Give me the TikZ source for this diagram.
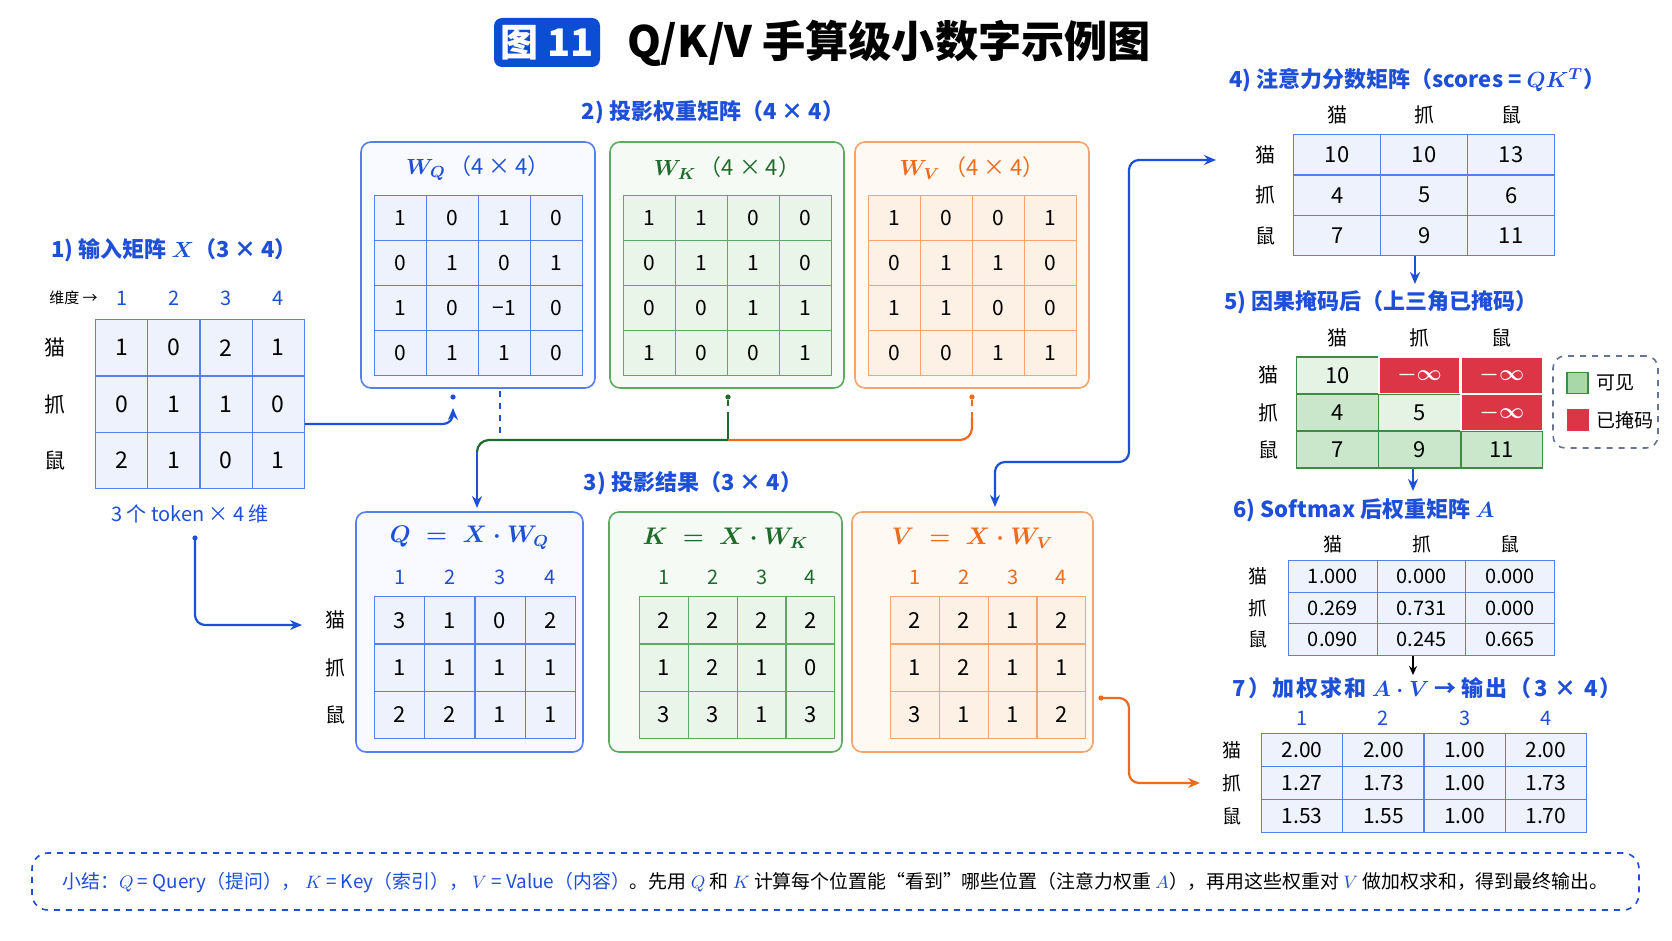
\documentclass[tikz,border=0pt]{standalone}
\usepackage{fontspec}
\setmainfont{Noto Sans CJK SC}
\usetikzlibrary{matrix,arrows.meta,calc}
\definecolor{bluetxt}{HTML}{1E4FD8}
\definecolor{titleblue}{HTML}{0B4ED3}
\definecolor{bline}{HTML}{5580EC}
\definecolor{bfill}{HTML}{F8FAFF}
\definecolor{bcell}{HTML}{EEF2FD}
\definecolor{greentxt}{HTML}{1F6B2B}
\definecolor{gline}{HTML}{5EAA62}
\definecolor{gfill}{HTML}{F5FAF5}
\definecolor{gcell}{HTML}{EAF5EA}
\definecolor{orangetxt}{HTML}{F06A1C}
\definecolor{oline}{HTML}{F6A46C}
\definecolor{ofill}{HTML}{FFF9F4}
\definecolor{ocell}{HTML}{FDF1E6}
\definecolor{maskred}{HTML}{DC3546}
\definecolor{mgreenA}{HTML}{E4F3E4}
\definecolor{mgreenB}{HTML}{CBE7CB}
\definecolor{mgborder}{HTML}{3C8C41}
\definecolor{leggray}{HTML}{66748F}
\definecolor{leggreen}{HTML}{A8D8A8}
\tikzset{
  gridm/.style n args={5}{matrix of nodes, nodes in empty cells, anchor=north west,
     inner sep=0pt, outer sep=0pt, column sep=-0.6pt, row sep=-0.6pt,
     nodes={draw=#1, fill=#2, line width=0.6pt, minimum width=#3, minimum height=#4,
       inner sep=0pt, outer sep=0pt, anchor=center, font=\fontsize{#5}{#5}\selectfont}},
  panel/.style n args={2}{draw=#1, fill=#2, line width=0.8pt, rounded corners=5pt, inner sep=0pt},
  head/.style={text=bluetxt, inner sep=0pt, font=\bfseries\boldmath\fontsize{11}{12}\selectfont},
  ptitle/.style={inner sep=0pt, font=\boldmath\fontsize{11}{12}\selectfont},
  lab/.style={inner sep=0pt, font=\fontsize{10}{10}\selectfont},
  colnum/.style={inner sep=0pt, font=\fontsize{10}{10}\selectfont},
  mred/.style={fill=maskred, draw=white, text=white, line width=1pt},
  mlite/.style={fill=mgreenA},
  tip/.style={-{Stealth[length=6pt,width=5pt]}},
  connB/.style={draw=bluetxt, line width=1.1pt, rounded corners=5pt, tip},
  connO/.style={draw=orangetxt, line width=1.1pt, rounded corners=5pt, tip},
}
\newcommand{\minf}{{\fontsize{11}{11}\selectfont\boldmath$-\infty$}}
\begin{document}
\begin{tikzpicture}[x=0.5pt,y=-0.5pt]
\useasboundingbox (0,0) rectangle (1672,941);
\fill[white] (0,0) rectangle (1672,941);

% ---- title
\node[fill=titleblue, rounded corners=4pt, minimum width=53pt, minimum height=24.5pt, inner sep=0pt,
      text=white, font=\bfseries\fontsize{19}{19}\selectfont] (tbox) at (547,42.5) {图 11};
\node[anchor=west, inner sep=0pt, font=\bfseries\fontsize{21.6}{23}\selectfont] (title) at (627,43) {Q/K/V 手算级小数字示例图};

% ---- 1) input X
\node[head, anchor=west] (h1) at (51,250) {1) 输入矩阵 $X$（3 × 4）};
\matrix (X) [gridm={bline}{bcell}{26.1pt}{28.2pt}{11.5}] at (95,319) {
1 & 0 & 2 & 1 \\
0 & 1 & 1 & 0 \\
2 & 1 & 0 & 1 \\
};
\node[inner sep=0pt, anchor=west, font=\fontsize{7.5}{8}\selectfont] (wd) at (49,298) {维度 →};
\foreach \i in {1,...,4} \node[colnum, text=bluetxt] (xc\i) at (X-1-\i |- 0,298) {\i};
\foreach \r/\t in {1/猫,2/抓,3/鼠} \node[lab, font=\fontsize{10.5}{11}\selectfont] (xr\r) at (55,0 |- X-\r-1) {\t};
\node[inner sep=0pt, text=bluetxt, font=\fontsize{10}{10}\selectfont] (xcap) at (190,514) {3 个 token × 4 维};

% ---- 2) weight matrices
\node[head] (h2) at (713,112) {2) 投影权重矩阵（4 × 4）};
\node[panel={bline}{bfill}, minimum width=117pt, minimum height=123pt] (wqbox) at (478,265) {};
\node[panel={gline}{gfill}, minimum width=117pt, minimum height=123pt] (wkbox) at (727,265) {};
\node[panel={oline}{ofill}, minimum width=117pt, minimum height=123pt] (wvbox) at (972,265) {};
\node[ptitle, text=bluetxt] (wqt) at (478,168) {$W_Q$\,（4 × 4）};
\node[ptitle, text=greentxt] (wkt) at (727,168) {$W_K$\,（4 × 4）};
\node[ptitle, text=orangetxt] (wvt) at (972,168) {$W_V$\,（4 × 4）};
\matrix (WQ) [gridm={bline}{bcell}{26pt}{22.5pt}{10.5}] at (374,195) {
1 & 0 & 1 & 0 \\
0 & 1 & 0 & 1 \\
1 & 0 & −1 & 0 \\
0 & 1 & 1 & 0 \\
};
\matrix (WK) [gridm={gline}{gcell}{26pt}{22.5pt}{10.5}] at (623,195) {
1 & 1 & 0 & 0 \\
0 & 1 & 1 & 0 \\
0 & 0 & 1 & 1 \\
1 & 0 & 0 & 1 \\
};
\matrix (WV) [gridm={oline}{ocell}{26pt}{22.5pt}{10.5}] at (868,195) {
1 & 0 & 0 & 1 \\
0 & 1 & 1 & 0 \\
1 & 1 & 0 & 0 \\
0 & 0 & 1 & 1 \\
};

% ---- 3) projections
\node[head] (h3) at (693,483) {3) 投影结果（3 × 4）};
\node[panel={bline}{bfill}, minimum width=113.5pt, minimum height=120pt] (qbox) at (469.5,632) {};
\node[panel={gline}{gfill}, minimum width=116.5pt, minimum height=120pt] (kbox) at (725.5,632) {};
\node[panel={oline}{ofill}, minimum width=120.5pt, minimum height=120pt] (vbox) at (972.5,632) {};
\node[ptitle, text=bluetxt, font=\boldmath\fontsize{12}{12}\selectfont] (qt) at (469.5,538) {$Q\;=\;X\cdot W_Q$};
\node[ptitle, text=greentxt, font=\boldmath\fontsize{12}{12}\selectfont] (kt) at (725.5,538) {$K\;=\;X\cdot W_K$};
\node[ptitle, text=orangetxt, font=\boldmath\fontsize{12}{12}\selectfont] (vt) at (972.5,538) {$V\;=\;X\cdot W_V$};
\matrix (Q) [gridm={bline}{bcell}{25.1pt}{23.65pt}{11}] at (374,596) {
3 & 1 & 0 & 2 \\
1 & 1 & 1 & 1 \\
2 & 2 & 1 & 1 \\
};
\matrix (K) [gridm={gline}{gcell}{24.4pt}{23.65pt}{11}] at (639,596) {
2 & 2 & 2 & 2 \\
1 & 2 & 1 & 0 \\
3 & 3 & 1 & 3 \\
};
\matrix (V) [gridm={oline}{ocell}{24.4pt}{23.65pt}{11}] at (890,596) {
2 & 2 & 1 & 2 \\
1 & 2 & 1 & 1 \\
3 & 1 & 1 & 2 \\
};
\foreach \i in {1,...,4} {
  \node[colnum, text=bluetxt] (qc\i) at (Q-1-\i |- 0,577) {\i};
  \node[colnum, text=greentxt] (kc\i) at (K-1-\i |- 0,577) {\i};
  \node[colnum, text=orangetxt] (vc\i) at (V-1-\i |- 0,577) {\i};
}
\foreach \r/\t in {1/猫,2/抓,3/鼠} \node[lab] (qr\r) at (335,0 |- Q-\r-1) {\t};

% ---- 4) scores
\node[head, anchor=west] (h4) at (1229,80) {4) 注意力分数矩阵（scores = $QK^T$）};
\matrix (S) [gridm={bline}{bcell}{43.5pt}{20.2pt}{11}] at (1293,134) {
10 & 10 & 13 \\
4 & 5 & 6 \\
7 & 9 & 11 \\
};
\foreach \c/\t in {1/猫,2/抓,3/鼠} {
  \node[lab] (sh\c) at (S-1-\c |- 0,115) {\t};
  \node[lab] (sr\c) at (1265,0 |- S-\c-1) {\t};
}

% ---- 5) masked
\node[head, anchor=west] (h5) at (1224,302) {5) 因果掩码后（上三角已掩码）};
\matrix (M) [gridm={mgborder}{mgreenB}{40.8pt}{18.3pt}{11}] at (1296,356) {
|[mlite]| 10 & |[mred]| \minf & |[mred]| \minf \\
4 & |[mlite]| 5 & |[mred]| \minf \\
7 & 9 & 11 \\
};
\foreach \c/\t in {1/猫,2/抓,3/鼠} {
  \node[lab] (mh\c) at (M-1-\c |- 0,338) {\t};
  \node[lab] (mr\c) at (1268,0 |- M-\c-1) {\t};
}
\node[draw=leggray, dashed, line width=0.8pt, rounded corners=6pt, minimum width=52.5pt, minimum height=46pt, inner sep=0pt] (leg) at (1605.5,402) {};
\node[draw=mgborder, fill=leggreen, line width=0.8pt, minimum size=10.5pt, inner sep=0pt] (lg1) at (1577.5,383) {};
\node[draw=maskred, fill=maskred, minimum size=10.5pt, inner sep=0pt] (lg2) at (1577.5,420) {};
\node[anchor=west, inner sep=0pt, font=\fontsize{9.5}{10}\selectfont] (lt1) at (1596,383) {可见};
\node[anchor=west, inner sep=0pt, font=\fontsize{9.5}{10}\selectfont] (lt2) at (1596,420) {已掩码};

% ---- 6) softmax
\node[head, anchor=west] (h6) at (1233,510) {6) Softmax 后权重矩阵 $A$};
\matrix (A) [gridm={bline}{bcell}{44.3pt}{15.8pt}{10}] at (1288,560) {
1.000 & 0.000 & 0.000 \\
0.269 & 0.731 & 0.000 \\
0.090 & 0.245 & 0.665 \\
};
\foreach \c/\t in {1/猫,2/抓,3/鼠} {
  \node[lab, font=\fontsize{9.5}{10}\selectfont] (ah\c) at (A-1-\c |- 0,544) {\t};
  \node[lab, font=\fontsize{9.5}{10}\selectfont] (ar\c) at (1258,0 |- A-\c-1) {\t};
}

% ---- 7) output
\node[head, anchor=west] (h7) at (1232,688) {{\addfontfeature{LetterSpace=10}7）加权求和} $A\cdot V$ → {\addfontfeature{LetterSpace=10}输出（3 × 4）}};
\matrix (O) [gridm={bline}{bcell}{40.6pt}{16.5pt}{10.5}] at (1261,733) {
2.00 & 2.00 & 1.00 & 2.00 \\
1.27 & 1.73 & 1.00 & 1.73 \\
1.53 & 1.55 & 1.00 & 1.70 \\
};
\foreach \i in {1,...,4} \node[colnum, text=bluetxt] (oc\i) at (O-1-\i |- 0,718) {\i};
\foreach \r/\t in {1/猫,2/抓,3/鼠} \node[lab, font=\fontsize{9.5}{10}\selectfont] (or\r) at (1232,0 |- O-\r-1) {\t};

% ---- connectors
\coordinate (wqin) at (453,408);
\draw[connB] (X.east |- 0,424) -| (wqin);
\fill[bluetxt] (453,397) circle (1.3pt);
\draw[bluetxt, dashed, line width=0.8pt] (500,391) -- (500,440);
% green + orange merge into Q
\fill[greentxt] (728,397) circle (1.3pt);
\draw[greentxt, dashed, line width=1pt] (728,400) -- (728,418);
\draw[greentxt, line width=1.1pt] (728,418) -- (728,440);
\fill[orangetxt] (972,397) circle (1.3pt);
\draw[orangetxt, dashed, line width=1pt] (972,400) -- (972,418);
\draw[orangetxt, line width=1.1pt, rounded corners=6pt] (972,418) -- (972,440) -- (728,440);
\draw[greentxt, line width=1.1pt, rounded corners=6pt] (728,440) -- (477,440) -- (477,452);
\coordinate (qin) at (477,508);
\draw[connB] (477,451) -- (qin);
% caption -> Q rows
\fill[bluetxt] (195,538) circle (1.3pt);
\coordinate (qrow) at (302,625);
\draw[connB] (195,538) |- (qrow);
% V <-> scores
\coordinate (vin) at (995,507);
\coordinate (sin) at (1216,160);
\draw[connB, {Stealth[length=6pt,width=5pt]}-{Stealth[length=6pt,width=5pt]}] (vin) -- (995,462) -- (1129,462) -- (1129,160) -- (sin);
% V -> output
\fill[orangetxt] (1101,698) circle (1.3pt);
\coordinate (oin) at (1200,783);
\draw[connO] (1101,698) -- (1129,698) -- (1129,783) -- (oin);
% vertical flow arrows
\draw[connB] (S.south -| 1415,0) -- (1415,284);
\draw[connB] (M.south -| 1413,0) -- (1413,491);
\draw[black, line width=0.9pt, -{Stealth[length=4.5pt,width=4pt]}] (A.south -| 1413,0) -- (1413,675);

% ---- summary
\node[draw=bluetxt, dashed, line width=0.8pt, rounded corners=8pt, minimum width=803.5pt, minimum height=28.5pt, inner sep=0pt] (sumbox) at (835.5,881.5) {};
\node[anchor=west, inner sep=0pt, font=\fontsize{9.45}{10}\selectfont] (sumtxt) at (62,883) {{\color{bluetxt}小结：$Q$ = Query（提问）， $K$ = Key（索引）， $V$ = Value（内容）}。先用 {\color{bluetxt}$Q$} 和 {\color{bluetxt}$K$} 计算每个位置能“看到”哪些位置（注意力权重 {\color{bluetxt}$A$}），再用这些权重对 {\color{bluetxt}$V$} 做加权求和，得到最终输出。};
\end{tikzpicture}
\end{document}
